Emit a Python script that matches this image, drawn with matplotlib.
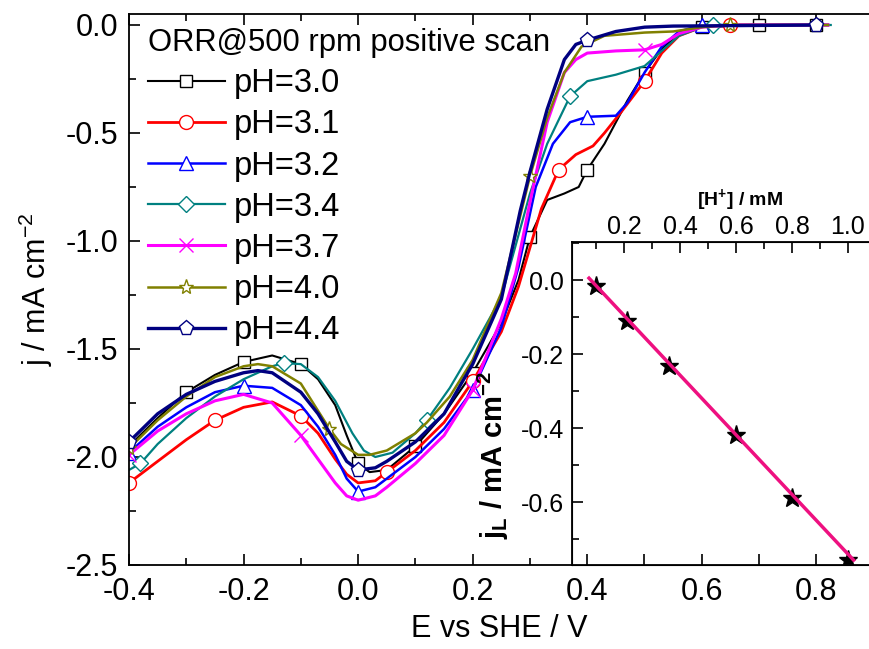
import matplotlib
matplotlib.use("Agg")
import matplotlib.pyplot as plt
import numpy as np
from matplotlib.ticker import MultipleLocator

plt.rcParams['font.family'] = ['Liberation Sans', 'DejaVu Sans']
plt.rcParams['mathtext.default'] = 'regular'

# ---- main panel data: ORR @ 500 rpm, positive scan (E vs SHE / V, j / mA cm-2)
E_30 = [-0.40,-0.35,-0.30,-0.25,-0.20,-0.15,-0.10,-0.07,-0.04,-0.02,0.00,0.02,0.05,0.10,0.15,0.20,0.25,0.28,0.30,0.33,0.36,0.385,0.40,0.43,0.47,0.50,0.53,0.56,0.60,0.70,0.80,0.82]
j_30 = [-1.95,-1.82,-1.70,-1.62,-1.56,-1.53,-1.57,-1.64,-1.76,-1.90,-2.03,-2.07,-2.06,-1.95,-1.80,-1.61,-1.38,-1.18,-0.98,-0.81,-0.78,-0.75,-0.67,-0.55,-0.35,-0.22,-0.11,-0.04,-0.01,0.00,0.00,0.00]
E_31 = [-0.40,-0.35,-0.30,-0.25,-0.20,-0.15,-0.10,-0.07,-0.04,-0.02,0.00,0.03,0.05,0.10,0.15,0.20,0.25,0.28,0.30,0.32,0.35,0.38,0.41,0.43,0.46,0.50,0.53,0.56,0.60,0.65,0.82]
j_31 = [-2.12,-2.02,-1.92,-1.83,-1.77,-1.745,-1.81,-1.89,-2.01,-2.08,-2.12,-2.11,-2.07,-1.97,-1.84,-1.65,-1.42,-1.21,-1.03,-0.85,-0.67,-0.60,-0.56,-0.50,-0.40,-0.26,-0.13,-0.05,-0.01,0.00,0.00]
E_32 = [-0.40,-0.35,-0.30,-0.25,-0.20,-0.15,-0.10,-0.07,-0.04,-0.02,0.00,0.03,0.05,0.10,0.15,0.20,0.25,0.28,0.31,0.34,0.37,0.40,0.45,0.47,0.50,0.53,0.56,0.60,0.82]
j_32 = [-1.98,-1.86,-1.77,-1.70,-1.67,-1.68,-1.76,-1.86,-1.99,-2.10,-2.16,-2.14,-2.10,-2.00,-1.87,-1.69,-1.40,-1.12,-0.75,-0.55,-0.45,-0.425,-0.42,-0.36,-0.22,-0.10,-0.03,0.00,0.00]
E_34 = [-0.40,-0.38,-0.35,-0.30,-0.25,-0.20,-0.15,-0.13,-0.10,-0.07,-0.04,-0.01,0.01,0.03,0.06,0.10,0.12,0.16,0.20,0.25,0.30,0.33,0.37,0.40,0.45,0.50,0.53,0.56,0.60,0.62,0.825]
j_34 = [-2.06,-2.03,-1.94,-1.82,-1.72,-1.64,-1.58,-1.565,-1.57,-1.63,-1.74,-1.89,-1.97,-2.00,-1.98,-1.89,-1.83,-1.68,-1.50,-1.26,-0.78,-0.55,-0.33,-0.26,-0.23,-0.19,-0.12,-0.05,-0.01,0.00,0.00]
E_37 = [-0.40,-0.35,-0.30,-0.25,-0.20,-0.15,-0.10,-0.07,-0.04,-0.02,0.00,0.03,0.05,0.10,0.15,0.20,0.25,0.275,0.30,0.33,0.36,0.38,0.40,0.45,0.50,0.53,0.56,0.60,0.65,0.82]
j_37 = [-1.99,-1.88,-1.80,-1.74,-1.71,-1.75,-1.90,-2.01,-2.12,-2.18,-2.20,-2.18,-2.14,-2.03,-1.90,-1.69,-1.36,-1.15,-0.82,-0.45,-0.22,-0.16,-0.13,-0.12,-0.115,-0.09,-0.04,-0.01,0.00,0.00]
E_40 = [-0.40,-0.35,-0.30,-0.25,-0.20,-0.175,-0.15,-0.10,-0.05,-0.03,0.00,0.02,0.05,0.10,0.12,0.16,0.20,0.25,0.30,0.33,0.36,0.39,0.43,0.50,0.55,0.60,0.65,0.82]
j_40 = [-1.96,-1.83,-1.72,-1.63,-1.58,-1.57,-1.58,-1.66,-1.87,-1.94,-1.99,-1.99,-1.97,-1.89,-1.84,-1.72,-1.55,-1.24,-0.70,-0.43,-0.22,-0.10,-0.05,-0.035,-0.03,-0.01,0.00,0.00]
E_44 = [-0.40,-0.35,-0.30,-0.25,-0.20,-0.175,-0.15,-0.10,-0.07,-0.04,-0.02,0.00,0.03,0.05,0.10,0.15,0.18,0.20,0.25,0.283,0.30,0.33,0.36,0.38,0.40,0.45,0.50,0.55,0.80]
j_44 = [-1.93,-1.80,-1.71,-1.65,-1.61,-1.60,-1.61,-1.70,-1.80,-1.93,-2.02,-2.06,-2.05,-2.02,-1.93,-1.80,-1.66,-1.57,-1.27,-0.86,-0.68,-0.39,-0.16,-0.09,-0.07,-0.03,-0.01,-0.005,0.00]

# where the symbols sit on each curve (E values)
marks_30 = [-0.3,-0.2,-0.1,0.0,0.1,0.2,0.3,0.4,0.5,0.6,0.7,0.8]
marks_31 = [-0.4,-0.25,-0.1,0.05,0.2,0.35,0.5,0.65]
marks_32 = [-0.4,-0.2,0.0,0.2,0.4,0.6]
marks_34 = [-0.38,-0.13,0.12,0.37,0.62]
marks_37 = [-0.4,-0.1,0.2,0.5]
marks_40 = [-0.4,-0.05,0.3,0.65]
marks_44 = [-0.4,0.0,0.4,0.8]

labels = ['pH=3.0','pH=3.1','pH=3.2','pH=3.4','pH=3.7','pH=4.0','pH=4.4']
colors = ['#000000','#FF0000','#0000FF','#008080','#FF00FF','#808000','#000080']
markers = ['s','o','^','D','x','*','p']
msizes = [9,10,10,8,10,11,11]
lwidths = [1.5,2.0,1.8,1.6,2.2,1.8,2.4]

# ---- inset data: limiting current vs proton concentration
H_conc = [0.10, 0.21, 0.36, 0.60, 0.80, 1.00]
jL = [-0.016, -0.111, -0.232, -0.419, -0.589, -0.757]
fit_x = [0.075, 1.02]
fit_y = [0.005, -0.757]

curves = [(E_30, j_30, marks_30), (E_31, j_31, marks_31), (E_32, j_32, marks_32),
          (E_34, j_34, marks_34), (E_37, j_37, marks_37), (E_40, j_40, marks_40),
          (E_44, j_44, marks_44)]

fig = plt.figure(figsize=(8.7, 6.49), dpi=100)
ax = fig.add_axes([129/870, 1-565/649, 741/870, (565-14)/649])

for (E, j, mk), lab, c, m, ms, lw in zip(curves, labels, colors, markers, msizes, lwidths):
    idx = [i for i, e in enumerate(E) if any(abs(e - v) < 1e-6 for v in mk)]
    ax.plot(E, j, color=c, lw=lw, marker=m, markevery=idx, ms=ms,
            mfc='white', mec=c, mew=1.0, label=lab)

ax.set_xlim(-0.4, (870-358)/573)
ax.set_ylim(-2.5, 11/216)
ax.xaxis.set_minor_locator(MultipleLocator(0.1))
ax.yaxis.set_minor_locator(MultipleLocator(0.25))
ax.tick_params(which='both', direction='in', top=True, right=False, width=1.2, labelsize=22)
ax.tick_params(which='major', length=8)
ax.tick_params(which='minor', length=5)
ax.tick_params(axis='y', pad=8)
ax.tick_params(axis='x', pad=9)
for s in ax.spines.values():
    s.set_linewidth(1.3)
ax.set_xticks([-0.4,-0.2,0.0,0.2,0.4,0.6,0.8])
ax.set_xticklabels(['-0.4','-0.2','0.0','0.2','0.4','0.6','0.8'])
ax.set_yticks([0.0,-0.5,-1.0,-1.5,-2.0,-2.5])
ax.set_yticklabels(['0.0','-0.5','-1.0','-1.5','-2.0','-2.5'])
ax.set_xlabel('E vs SHE / V', fontsize=22, labelpad=5)
ax.set_ylabel('j / mA cm$^{-2}$', fontsize=22, labelpad=7)

leg = ax.legend(loc='upper left', bbox_to_anchor=(0.0145, 0.989), frameon=False,
                title='ORR@500 rpm positive scan', title_fontsize=22.3, fontsize=23.5,
                alignment='left', handlelength=2.35, handletextpad=0.28,
                labelspacing=0.31, borderpad=0.25, borderaxespad=0)

# ---- inset
axi = fig.add_axes([572/870, 1-565/649, 298/870, (565-242)/649])
axi.plot(H_conc, jL, linestyle='none', marker='*', ms=14, color='black', zorder=2)
axi.plot(fit_x, fit_y, color='#EE1080', lw=2.5, zorder=3)
axi.set_xlim((572-568)/280, (870-568)/280)
axi.set_ylim(-(565-280)/370, (280-242)/370)

# bottom ticks of the inset follow the E axis
axb = axi.twiny()
axb.set_xlim((572-358)/573, (870-358)/573)
axb.xaxis.tick_bottom()
axb.set_xticks([0.4,0.5,0.6,0.7,0.8])
axb.tick_params(direction='in', length=8, width=1.2, labelbottom=False, labeltop=False)

axi.xaxis.tick_top()
axi.xaxis.set_label_position('top')
axi.xaxis.set_minor_locator(MultipleLocator(0.1))
axi.set_xticks([0.2,0.4,0.6,0.8,1.0])
axi.set_xticklabels(['0.2','0.4','0.6','0.8','1.0'])
axi.yaxis.set_minor_locator(MultipleLocator(0.1))
axi.set_yticks([0.0,-0.2,-0.4,-0.6])
axi.set_yticklabels(['0.0','-0.2','-0.4','-0.6'])
axi.tick_params(which='both', direction='in', labelsize=18, width=1.2)
axi.tick_params(which='major', length=8)
axi.tick_params(which='minor', length=5)
axi.tick_params(axis='y', pad=6)
axi.tick_params(axis='x', pad=2)
for s in axi.spines.values():
    s.set_linewidth(1.3)
axi.set_xlabel('[H$^{+}$] / mM', fontsize=14, fontweight='bold')
axi.xaxis.set_label_coords(0.564, 1.115)
axi.set_ylabel('j$_{L}$ / mA cm$^{-2}$', fontsize=21, fontweight='bold')
axi.yaxis.set_label_coords(-0.205, 0.34)

fig.savefig('out.png', dpi=100)
